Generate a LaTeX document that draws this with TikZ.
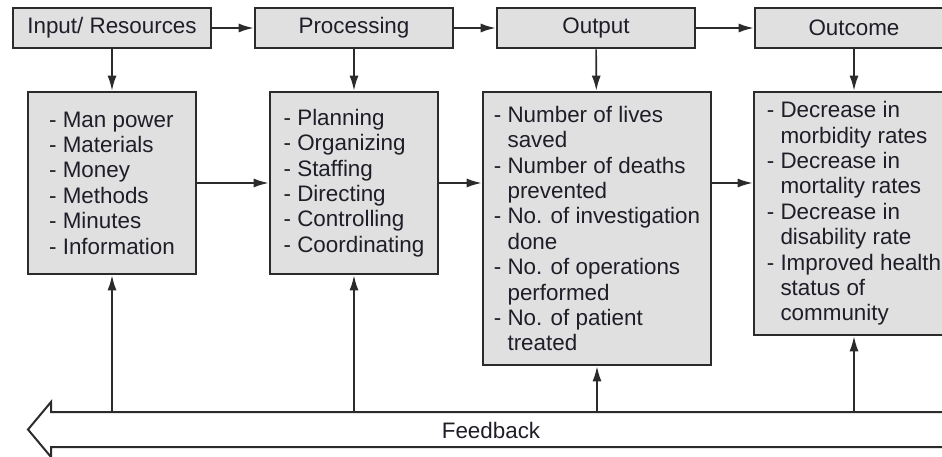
\documentclass[tikz,border=0pt]{standalone}
\usepackage{fontspec}
\setmainfont{Liberation Sans}
\usetikzlibrary{arrows.meta}
\usetikzlibrary{calc}

\definecolor{boxfill}{HTML}{E0E0E0}
\definecolor{boxline}{HTML}{2B2B2B}
\definecolor{txt}{HTML}{1E1E28}

\tikzset{
	head/.style={draw=boxline, line width=2.6pt, fill=boxfill, minimum width=198pt, minimum height=40pt, inner sep=0pt},
	list/.style={draw=boxline, line width=2.6pt, fill=boxfill, align=left, inner sep=0pt},
	link/.style={draw=boxline, line width=1.7pt, ->},
	>={Latex[length=15pt,width=9pt]},
}
\newcommand{\ind}{\phantom{- }}

\begin{document}
\begin{tikzpicture}[x=1pt, y=-1pt, font=\fontsize{22.4}{25.4}\selectfont, text=txt]
	\clip (0,0) rectangle (942,457);
	% top row
	\node[head] (in)  at (112,28) {Input/ Resources};
	\node[head] (pro) at (354,28) {Processing};
	\node[head] (out) at (596,28) {Output};
	\node[head] (res) at (854,28) {Outcome};
	% lists
	\node[list, minimum width=168pt, minimum height=182pt] (inl) at (112,183)
	{- Man power\\- Materials\\- Money\\- Methods\\- Minutes\\- Information};
	\node[list, minimum width=168pt, minimum height=182pt] (prol) at (354,183)
	{- Planning\\- Organizing\\- Staffing\\- Directing\\- Controlling\\- Coordinating};
	\node[list, minimum width=228pt, minimum height=273pt] (outl) at (597,228.5)
	{- Number of lives\\\ind saved\\- Number of deaths\\\ind prevented\\- No. of investigation\\\ind done\\- No. of operations\\\ind performed\\- No. of patient\\\ind treated};
	\node[list, minimum width=200pt, minimum height=243pt] (resl) at (854,213.5)
	{- Decrease in\\\ind morbidity rates\\- Decrease in\\\ind mortality rates\\- Decrease in\\\ind disability rate\\- Improved health\\\ind status of\\\ind community};
	% feedback arrow
	\draw[boxline, line width=2pt, fill=white] (28,429.5) -- (51,402) -- (51,412) -- (960,412)
	-- (960,447) -- (51,447) -- (51,457) -- cycle;
	\node (fb) at (491,430) {Feedback};
	\coordinate (fbtop) at (0,412);
	
	\path[every edge/.append style={link}]
	(in) edge (pro)
	(pro) edge (out)
	(out) edge (res)
	(in) edge (inl)
	(pro) edge (prol)
	(out) edge (outl)
	(res) edge (resl)
	(inl) edge (prol)
	(prol.east) edge (prol.east -| outl.west)
	(outl.east |- prol.east) edge (resl.west |- prol.east)
	;
	\path[every edge/.append style={link}]
	(inl.south |- fbtop) edge (inl.south)
	(prol.south |- fbtop) edge (prol.south)
	(outl.south |- fbtop) edge (outl.south)
	(resl.south |- fbtop) edge (resl.south)
	;
\end{tikzpicture}
\end{document}
